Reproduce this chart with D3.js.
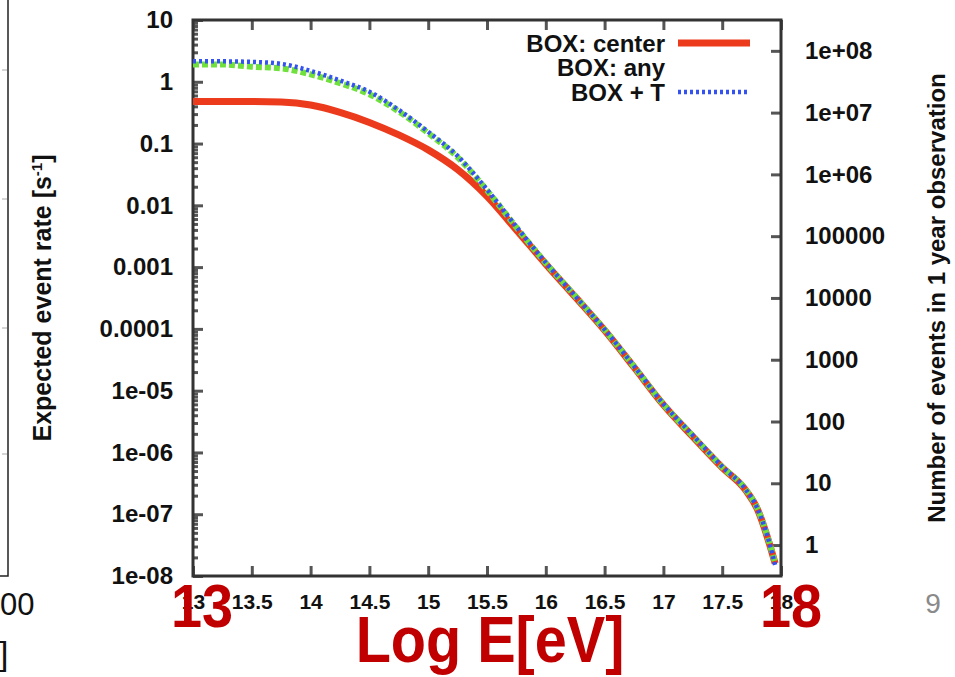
<!DOCTYPE html>
<html>
<head>
<meta charset="utf-8">
<script src="https://cdn.jsdelivr.net/npm/d3@7"></script>
<style>
  body { margin: 0; background: #fff; }
  svg text { font-family: "Liberation Sans", Arial, sans-serif; }
  .tick text { font-weight: bold; fill: #111; }
</style>
</head>
<body>
<div id="chart"></div>
<script>
(function(){

// log10 E [eV] sample points
var energies = [13, 13.25, 13.5, 13.75, 14, 14.25, 14.5, 14.75, 15, 15.25, 15.5, 15.75,
                16, 16.25, 16.5, 16.75, 17, 17.25, 17.5, 17.7, 17.8, 17.9, 17.95];

// expected event rate [s^-1]
var boxCenter = [0.48, 0.48, 0.48, 0.47, 0.42, 0.32, 0.22, 0.138, 0.079, 0.038, 0.014, 0.004,
                 0.00112, 3.3e-4, 9.5e-5, 2.4e-5, 5.9e-6, 1.8e-6, 5.7e-7, 2.45e-7, 1.2e-7, 3.4e-8, 1.6e-8];
var boxAny    = [1.9, 1.9, 1.75, 1.65, 1.32, 0.95, 0.63, 0.33, 0.148, 0.06, 0.0175, 0.0044,
                 0.00116, 3.4e-4, 9.7e-5, 2.45e-5, 6e-6, 1.85e-6, 5.8e-7, 2.5e-7, 1.22e-7, 3.5e-8, 1.6e-8];
var boxT      = [2.14, 2.14, 2.1, 1.95, 1.5, 1.05, 0.69, 0.35, 0.155, 0.063, 0.018, 0.0045,
                 0.00118, 3.4e-4, 9.8e-5, 2.5e-5, 6.1e-6, 1.9e-6, 5.9e-7, 2.5e-7, 1.23e-7, 3.5e-8, 1.5e-8];

var seriesNames = ["BOX: center", "BOX: any", "BOX + T"];

var xTickValues = [13, 13.5, 14, 14.5, 15, 15.5, 16, 16.5, 17, 17.5, 18];
var xTickLabels = ["13", "13.5", "14", "14.5", "15", "15.5", "16", "16.5", "17", "17.5", "18"];
var yTickValues = [1e-8, 1e-7, 1e-6, 1e-5, 1e-4, 1e-3, 1e-2, 1e-1, 1, 10];
var yTickLabels = ["1e-08", "1e-07", "1e-06", "1e-05", "0.0001", "0.001", "0.01", "0.1", "1", "10"];
var y2TickValues = [1, 10, 100, 1e3, 1e4, 1e5, 1e6, 1e7, 1e8];
var y2TickLabels = ["1", "10", "100", "1000", "10000", "100000", "1e+06", "1e+07", "1e+08"];

var secondsPerYear = 3.156e7;

var width = 955, height = 677;
var margin = {top: 20, right: 174, bottom: 101, left: 193};

var svg = d3.select("#chart").append("svg")
    .attr("width", width)
    .attr("height", height);

var x = d3.scaleLinear().domain([13, 18]).range([margin.left, width - margin.right]);
var y = d3.scaleLog().domain([1e-8, 10]).range([height - margin.bottom, margin.top]);
var y2 = d3.scaleLog()
    .domain([1e-8 * secondsPerYear, 10 * secondsPerYear])
    .range([height - margin.bottom, margin.top]);

// piece of the previous plot on the slide
var leftBox = svg.append("g").attr("stroke", "#222").attr("fill", "none");
leftBox.append("path").attr("d", "M8,0V576H0").attr("stroke-width", 1.5);
[70, 199, 328, 454].forEach(function(t) {
  leftBox.append("line").attr("x1", 2).attr("x2", 7).attr("y1", t).attr("y2", t)
    .attr("stroke", "#aaa").attr("stroke-width", 1);
});
svg.append("text").attr("x", 0).attr("y", 615).attr("font-size", 31)
  .attr("fill", "#111").text("00");
svg.append("text").attr("x", -1).attr("y", 665).attr("font-size", 34)
  .attr("fill", "#111").text("]");

// minor log ticks on left axis
var minor = [];
for (var p = -8; p < 1; p++) for (var m = 2; m < 10; m++) minor.push(m * Math.pow(10, p));
svg.append("g")
    .attr("transform", "translate(" + margin.left + ",0)")
    .call(d3.axisLeft(y).tickValues(minor).tickSize(-5).tickFormat(""))
    .call(function(g) { g.select(".domain").remove(); })
    .selectAll("line").attr("stroke", "#555").attr("stroke-width", 2);

var gLeft = svg.append("g")
    .attr("transform", "translate(" + margin.left + ",0)")
    .call(d3.axisLeft(y).tickValues(yTickValues).tickSize(-10).tickPadding(20)
      .tickFormat(function(d, i) { return yTickLabels[i]; }));
gLeft.selectAll("text").attr("font-size", 24);

var gRight = svg.append("g")
    .attr("transform", "translate(" + (width - margin.right) + ",0)")
    .call(d3.axisRight(y2).tickValues(y2TickValues).tickSize(-10).tickPadding(24)
      .tickFormat(function(d, i) { return y2TickLabels[i]; }));
gRight.selectAll("text").attr("font-size", 24);

var gBottom = svg.append("g")
    .attr("transform", "translate(0," + (height - margin.bottom) + ")")
    .call(d3.axisBottom(x).tickValues(xTickValues).tickSize(-10).tickPadding(18)
      .tickFormat(function(d, i) { return xTickLabels[i]; }));
gBottom.selectAll("text").attr("font-size", 21);

svg.append("g")
    .attr("transform", "translate(0," + margin.top + ")")
    .call(d3.axisTop(x).tickValues(xTickValues).tickSize(-10).tickFormat(""));

svg.selectAll(".domain").remove();
svg.selectAll(".tick line").attr("stroke", "#555").attr("stroke-width", 3);

// plot frame
svg.append("rect")
    .attr("x", margin.left).attr("y", margin.top)
    .attr("width", width - margin.left - margin.right)
    .attr("height", height - margin.top - margin.bottom)
    .attr("fill", "none").attr("stroke", "#333").attr("stroke-width", 3);

// curves
var line = d3.line()
    .x(function(d) { return x(d[0]); })
    .y(function(d) { return y(d[1]); })
    .curve(d3.curveMonotoneX);

var styles = [
  {color: "#ec3b1c", width: 7, dash: null},
  {color: "#6fe03c", width: 6, dash: "6,3"},
  {color: "#3352ef", width: 4.5, dash: "3,3"}
];
var allSeries = [boxCenter, boxAny, boxT];

allSeries.forEach(function(vals, k) {
  svg.append("path")
      .datum(energies.map(function(e, i) { return [e, vals[i]]; }))
      .attr("fill", "none")
      .attr("stroke", styles[k].color)
      .attr("stroke-width", styles[k].width)
      .attr("stroke-dasharray", styles[k].dash)
      .attr("d", line);
});

// legend
var legendY = [44, 68, 93];
seriesNames.forEach(function(name, k) {
  svg.append("text")
      .attr("x", 665).attr("y", legendY[k] + 8)
      .attr("text-anchor", "end")
      .attr("font-size", 24).attr("font-weight", "bold").attr("fill", "#111")
      .text(name);
  if (k === 1) return; // no visible sample for the green key
  svg.append("line")
      .attr("x1", 678).attr("x2", 750)
      .attr("y1", legendY[k] - 1).attr("y2", legendY[k] - 1)
      .attr("stroke", styles[k].color)
      .attr("stroke-width", styles[k].width)
      .attr("stroke-dasharray", styles[k].dash);
});

// axis titles
var plotMid = (margin.top + height - margin.bottom) / 2;
var yTitle = svg.append("text")
    .attr("transform", "translate(51," + plotMid + ") rotate(-90)")
    .attr("text-anchor", "middle")
    .attr("font-size", 25).attr("font-weight", "bold").attr("fill", "#111");
yTitle.append("tspan").text("Expected event rate [s");
yTitle.append("tspan").attr("dy", -9).attr("font-size", 15).text("-1");
yTitle.append("tspan").attr("dy", 9).text("]");

svg.append("text")
    .attr("transform", "translate(945," + plotMid + ") rotate(-90)")
    .attr("text-anchor", "middle")
    .attr("font-size", 24).attr("font-weight", "bold").attr("fill", "#111")
    .text("Number of events in 1 year observation");

// slide overlay text
function bigRed(txt, cx, baseline, size, sx) {
  svg.append("text")
      .attr("transform", "translate(" + cx + "," + baseline + ") scale(" + sx + ",1)")
      .attr("text-anchor", "middle").attr("font-size", size).attr("font-weight", "bold")
      .attr("fill", "#c00000").text(txt);
}
bigRed("13", x(13) + 9, 627, 62, 0.9);
bigRed("18", x(18) + 10, 627, 62, 0.9);
bigRed("Log E[eV]", 490, 662, 64, 0.9);

svg.append("text").attr("x", 933).attr("y", 613)
    .attr("text-anchor", "middle").attr("font-size", 28)
    .attr("fill", "#8a8a8a").text("9");

})();
</script>
</body>
</html>
